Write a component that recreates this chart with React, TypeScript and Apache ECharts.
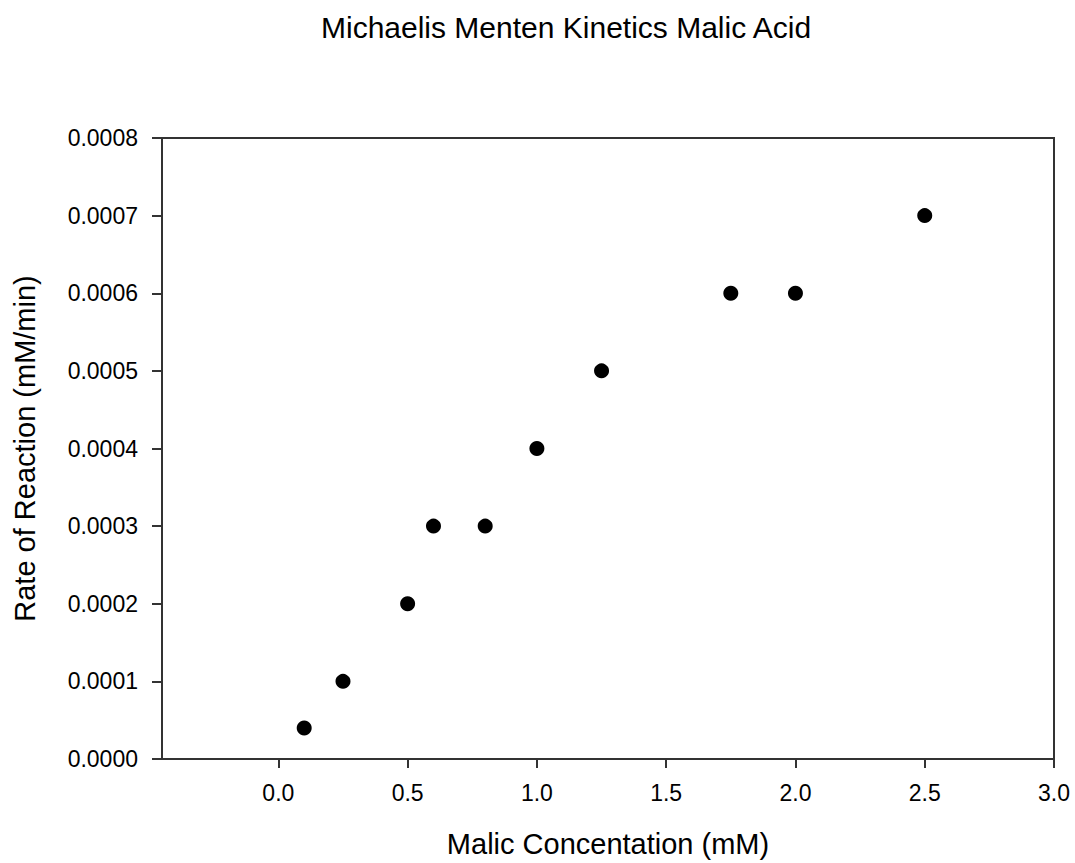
import React, { useEffect, useRef } from "react";
import * as echarts from "echarts";

const titleText = "Michaelis Menten Kinetics Malic Acid";
const xAxisName = "Malic Concentation (mM)";
const yAxisName = "Rate of Reaction (mM/min)";

const concentrations = [0.1, 0.25, 0.5, 0.6, 0.8, 1.0, 1.25, 1.75, 2.0, 2.5];
const rates = [0.00004, 0.0001, 0.0002, 0.0003, 0.0003, 0.0004, 0.0005, 0.0006, 0.0006, 0.0007];

const xTicks = [0, 0.5, 1.0, 1.5, 2.0, 2.5, 3.0];
const xMin = -0.45;
const xMax = 3.0;
const yMin = 0;
const yMax = 0.0008;
const yStep = 0.0001;

const FONT = "'Liberation Sans', Arial, sans-serif";
const LINE = "#333333";

export default function App() {
  const ref = useRef<HTMLDivElement>(null);

  useEffect(() => {
    if (!ref.current) return;
    const chart = echarts.init(ref.current, undefined, { renderer: "svg" });
    const points = concentrations.map((c, i) => [c, rates[i]]);
    chart.setOption({
      animation: false,
      backgroundColor: "#ffffff",
      title: {
        text: titleText,
        left: 316,
        top: 7,
        textStyle: { fontFamily: FONT, fontSize: 30, fontWeight: "normal", color: "#000" },
      },
      grid: {
        left: 162,
        top: 138,
        right: 21,
        bottom: 101,
        show: true,
        borderColor: LINE,
        borderWidth: 2,
        backgroundColor: "transparent",
      },
      xAxis: {
        type: "value",
        min: xMin,
        max: xMax,
        name: xAxisName,
        nameLocation: "middle",
        nameGap: 70,
        nameTextStyle: { fontFamily: FONT, fontSize: 29, color: "#000" },
        axisLine: { show: true, onZero: false, lineStyle: { color: LINE, width: 2 } },
        axisTick: { show: true, length: 9, customValues: xTicks, lineStyle: { color: LINE, width: 2 } },
        axisLabel: {
          customValues: xTicks,
          formatter: (v: number) => v.toFixed(1),
          fontFamily: FONT,
          fontSize: 23,
          color: "#000",
          margin: 22,
        },
        splitLine: { show: false },
      },
      yAxis: {
        type: "value",
        min: yMin,
        max: yMax,
        interval: yStep,
        name: yAxisName,
        nameLocation: "middle",
        nameGap: 123,
        nameTextStyle: { fontFamily: FONT, fontSize: 29, color: "#000" },
        axisLine: { show: true, onZero: false, lineStyle: { color: LINE, width: 2 } },
        axisTick: { show: true, length: 10, lineStyle: { color: LINE, width: 2 } },
        axisLabel: {
          formatter: (v: number) => v.toFixed(4),
          fontFamily: FONT,
          fontSize: 23,
          color: "#000",
          margin: 24,
        },
        splitLine: { show: false },
      },
      series: [
        {
          type: "scatter",
          data: points,
          symbol: "circle",
          symbolSize: 15,
          itemStyle: { color: "#000", opacity: 1 },
        },
      ],
    });
    return () => chart.dispose();
  }, []);

  return (
    <div
      ref={ref}
      style={{ position: "fixed", left: 0, top: 0, width: 1075, height: 863, background: "#fff" }}
    />
  );
}
